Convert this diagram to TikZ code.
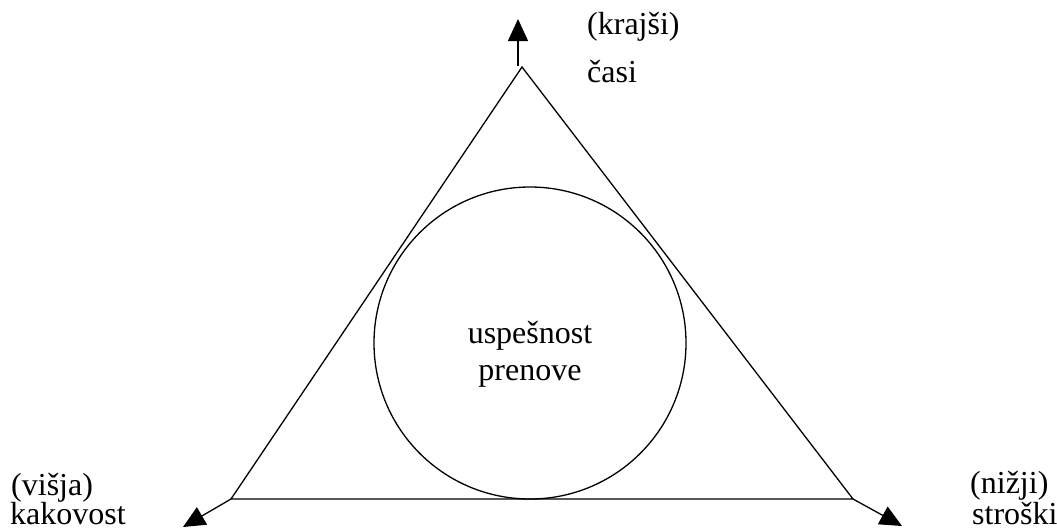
\documentclass[tikz,border=0pt]{standalone}
\usepackage{fontspec}
\setmainfont{Liberation Serif}
\usetikzlibrary{arrows.meta}
\begin{document}
\begin{tikzpicture}[x=1pt,y=-1pt,
  edge/.style={line width=1.3pt,line join=miter},
  axis/.style={line width=1.3pt,-{Triangle[length=22pt,width=20pt]}},
  lbl/.style={anchor=base west,inner sep=0pt,font=\fontsize{32}{37}\selectfont},
  ctr/.style={anchor=base,inner sep=0pt,font=\fontsize{32}{37}\selectfont}]
  \useasboundingbox (0,0) rectangle (1057,530);
  % triangle corners and arrow ends
  \coordinate (top) at (522,67);
  \coordinate (left) at (231,499);
  \coordinate (right) at (853,499);
  \coordinate (topbase) at (518,66);
  \coordinate (toptip) at (518,19);
  \coordinate (lefttip) at (183,527);
  \coordinate (righttip) at (902,526);
  % triangle and inscribed circle
  \draw[edge] (top) -- (left) -- (right) -- cycle;
  \node[draw,circle,line width=1.3pt,minimum size=312pt,inner sep=0pt] (goal) at (530,343) {};
  % outward arrows
  \draw[axis] (topbase) -- (toptip);
  \draw[axis] (left) -- (lefttip);
  \draw[axis] (right) -- (righttip);
  % labels
  \node[ctr] (c1) at (530,343) {uspešnost};
  \node[ctr] (c2) at (530,380) {prenove};
  \node[lbl] (t1) at (587,34) {(krajši)};
  \node[lbl] (t2) at (587,82) {časi};
  \node[lbl] (l1) at (11,495) {(višja)};
  \node[lbl] (l2) at (10,524) {kakovost};
  \node[lbl] (r1) at (970,493) {(nižji)};
  \node[lbl] (r2) at (972,524) {stroški};
\end{tikzpicture}
\end{document}
